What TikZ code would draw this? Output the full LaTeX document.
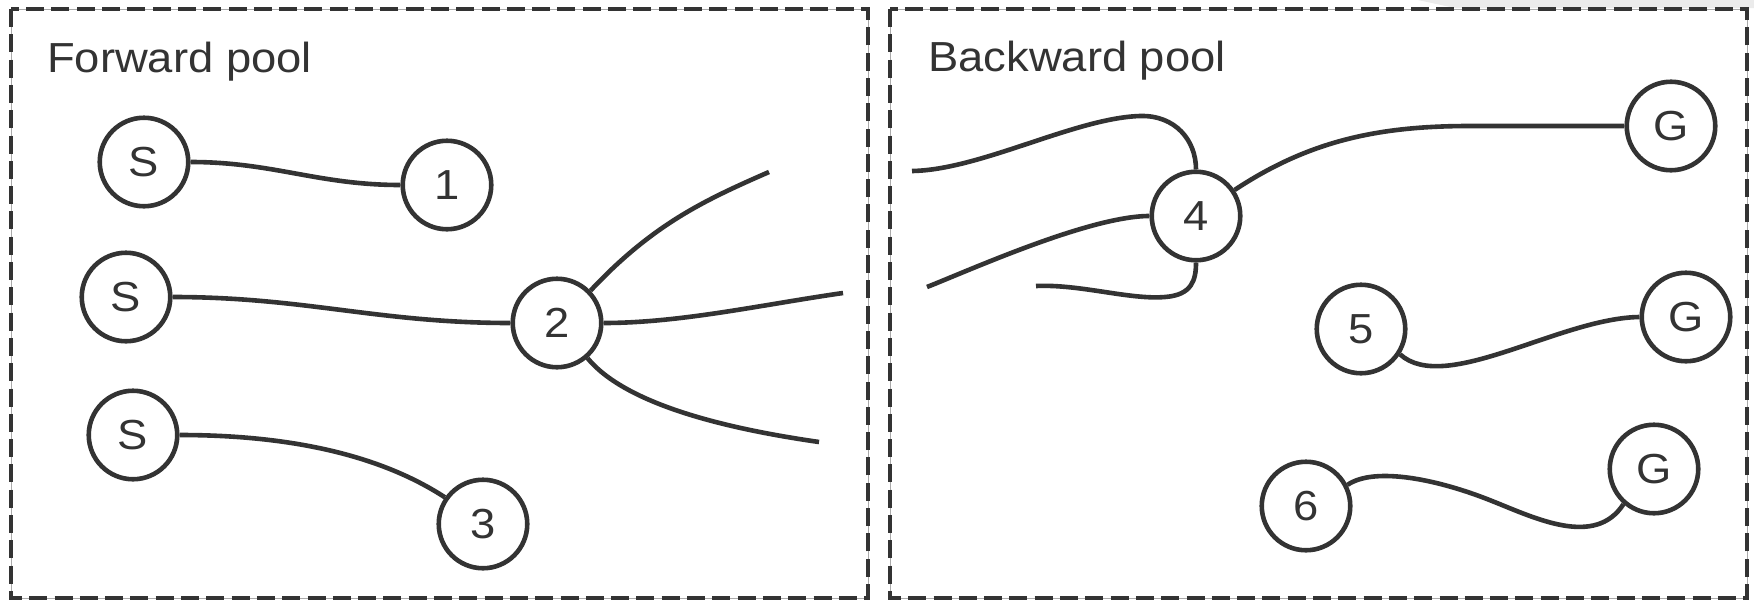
\documentclass[tikz,border=0pt]{standalone}
\usepackage{fontspec}
\setmainfont{Liberation Sans}[FakeStretch=1.08]
\definecolor{ink}{HTML}{333333}
\definecolor{haze}{HTML}{EBEBEB}
\definecolor{rule}{HTML}{AAAAAA}
\tikzset{
  poolline/.style={draw=ink, line width=3.4pt, dash pattern=on 18pt off 7.3pt},
  poolbase/.style={draw=rule, line width=0.8pt},
  vert/.style={circle, draw=ink, line width=4.6pt, minimum size=88.5pt, inner sep=0pt,
    text=ink, font=\fontsize{42pt}{48pt}\selectfont},
  wire/.style={draw=ink, line width=4.6pt},
  title/.style={anchor=base west, inner sep=0pt, text=ink, font=\fontsize{42pt}{48pt}\selectfont}
}
\begin{document}
\begin{tikzpicture}[x=1pt,y=-1pt]
\useasboundingbox (0,0) rectangle (1754,600);
\fill[white] (0,0) rectangle (1754,600);
\fill[haze] (1418,0) -- (1754,0) -- (1754,8) -- (1455,8) -- cycle;
% pools
\draw[poolbase] (11,9) rectangle (868,598);
\draw[poolline] (11,9) rectangle (868,598);
\draw[poolbase] (890,9) rectangle (1747,598);
\draw[poolline] (890,9) rectangle (1747,598);
\node[title] (tf) at (47,72) {Forward pool};
\node[title] (tb) at (928,71) {Backward pool};
% vertices
\node[vert] (s1) at (144,162) {S};
\node[vert] (v1) at (447,185) {1};
\node[vert] (s2) at (126,297) {S};
\node[vert] (v2) at (557,323) {2};
\node[vert] (s3) at (133,435) {S};
\node[vert] (v3) at (483,524) {3};
\node[vert] (v4) at (1196,216) {4};
\node[vert] (g1) at (1671,126) {G};
\node[vert] (v5) at (1361,329) {5};
\node[vert] (g2) at (1686,317) {G};
\node[vert] (v6) at (1306,506) {6};
\node[vert] (g3) at (1654,469) {G};
% free ends
\coordinate (e2a) at (769,172);
\coordinate (e2b) at (843,293);
\coordinate (e2c) at (819,442);
\coordinate (e4a) at (912,171);
\coordinate (e4b) at (927,287);
\coordinate (e4c) at (1036,286);
% forward connectors
\draw[wire] (s1.east) to[out=0,in=180] (v1.west);
\draw[wire] (s2.east) to[out=0,in=180] (v2.west);
\draw[wire] (s3.east) .. controls (290,435) and (380,455) .. (v3.145);
\draw[wire] (v2.44) .. controls (653,224) and (705,200) .. (e2a);
\draw[wire] (v2.east) .. controls (680,323) and (760,305) .. (e2b);
\draw[wire] (v2.-49) .. controls (630,410) and (750,432) .. (e2c);
% backward connectors
\draw[wire] (v4.north) .. controls (1196,140) and (1175,115) .. (1140,116)
  .. controls (1075,118) and (980,170) .. (e4a);
\draw[wire] (v4.west) .. controls (1090,216) and (970,270) .. (e4b);
\draw[wire] (v4.south) .. controls (1196,280) and (1192,295) .. (1165,297)
  .. controls (1130,300) and (1080,284) .. (e4c);
\draw[wire] (v4.34) .. controls (1310,140) and (1380,126) .. (1470,126) -- (g1.west);
\draw[wire] (v5.-33) .. controls (1445,395) and (1560,318) .. (g2.west);
\draw[wire] (v6.27) .. controls (1375,466) and (1440,480) .. (1492,501)
  .. controls (1535,518) and (1595,548) .. (g3.229);
\end{tikzpicture}
\end{document}
